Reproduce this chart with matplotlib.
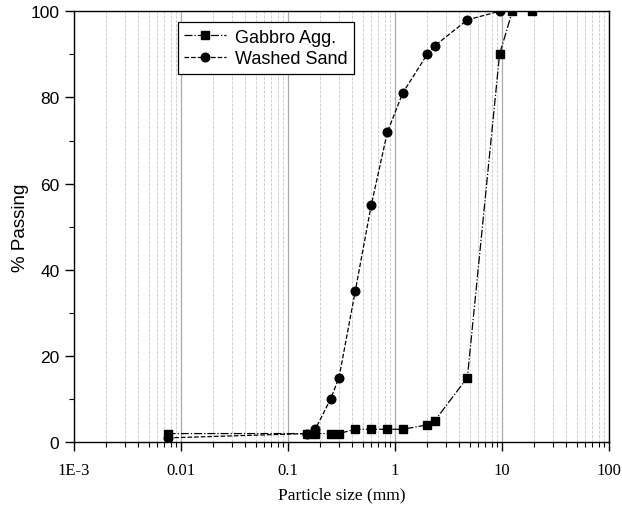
import matplotlib
matplotlib.use("Agg")
import matplotlib.pyplot as plt
from matplotlib.ticker import LogLocator, MultipleLocator, NullFormatter

# Dane granulometryczne
gabbro_x = [0.0075, 0.15, 0.18, 0.25, 0.3, 0.425, 0.6, 0.85, 1.18, 2.0, 2.36, 4.75, 9.5, 12.5, 19]
gabbro_y = [2, 2, 2, 2, 2, 3, 3, 3, 3, 4, 5, 15, 90, 100, 100]

sand_x = [0.0075, 0.15, 0.18, 0.25, 0.3, 0.425, 0.6, 0.85, 1.18, 2.0, 2.36, 4.75, 9.5]
sand_y = [1, 2, 3, 10, 15, 35, 55, 72, 81, 90, 92, 98, 100]

xticks = [0.001, 0.01, 0.1, 1, 10, 100]
xtick_labels = ['1E-3', '0.01', '0.1', '1', '10', '100']

sans = ['Liberation Sans', 'DejaVu Sans']
serif = ['Liberation Serif', 'DejaVu Serif']

fig = plt.figure(figsize=(6.22, 5.10), dpi=100)
ax = fig.add_axes([0.119, 0.131, 0.86, 0.845])

ax.plot(gabbro_x, gabbro_y, linestyle='-.', color='black', linewidth=0.9,
        marker='s', markersize=5.8, label='Gabbro Agg.')
ax.plot(sand_x, sand_y, linestyle='--', color='black', linewidth=0.9,
        marker='o', markersize=6.2, label='Washed Sand')

ax.set_xscale('log')
ax.set_xlim(0.001, 100)
ax.set_ylim(0, 100)

ax.set_xticks(xticks)
ax.set_xticklabels(xtick_labels, fontfamily=serif, fontsize=12)
ax.xaxis.set_minor_locator(LogLocator(base=10, subs=range(2, 10), numticks=20))
ax.xaxis.set_minor_formatter(NullFormatter())
ax.yaxis.set_major_locator(MultipleLocator(20))
ax.yaxis.set_minor_locator(MultipleLocator(10))
for lab in ax.get_yticklabels():
    lab.set_fontfamily(sans)
    lab.set_fontsize(12.5)

ax.tick_params(which='major', direction='out', length=6.5, width=1, color='black')
ax.tick_params(which='minor', direction='out', length=3.5, width=0.8, color='black')
ax.tick_params(axis='x', pad=8)
ax.tick_params(axis='y', pad=4)

# siatka tylko pionowa
ax.grid(which='major', axis='x', color='#aaaaaa', linestyle='-', linewidth=0.9)
ax.grid(which='minor', axis='x', color='#c8c8c8', linestyle='--', linewidth=0.6)
ax.set_axisbelow(True)

for s in ax.spines.values():
    s.set_linewidth(1.0)

ax.set_xlabel('Particle size (mm)', fontfamily=serif, fontsize=12.5, labelpad=6)
ax.set_ylabel('% Passing', fontfamily=sans, fontsize=13.5, labelpad=1)

leg = ax.legend(loc='upper left', bbox_to_anchor=(0.194, 0.974), frameon=True,
                fancybox=False, edgecolor='black', framealpha=1, borderaxespad=0,
                prop={'family': sans, 'size': 13}, handlelength=2.3,
                handletextpad=0.5, labelspacing=0.25, borderpad=0.35)
leg.get_frame().set_linewidth(0.9)

fig.savefig('out.png', dpi=100)
